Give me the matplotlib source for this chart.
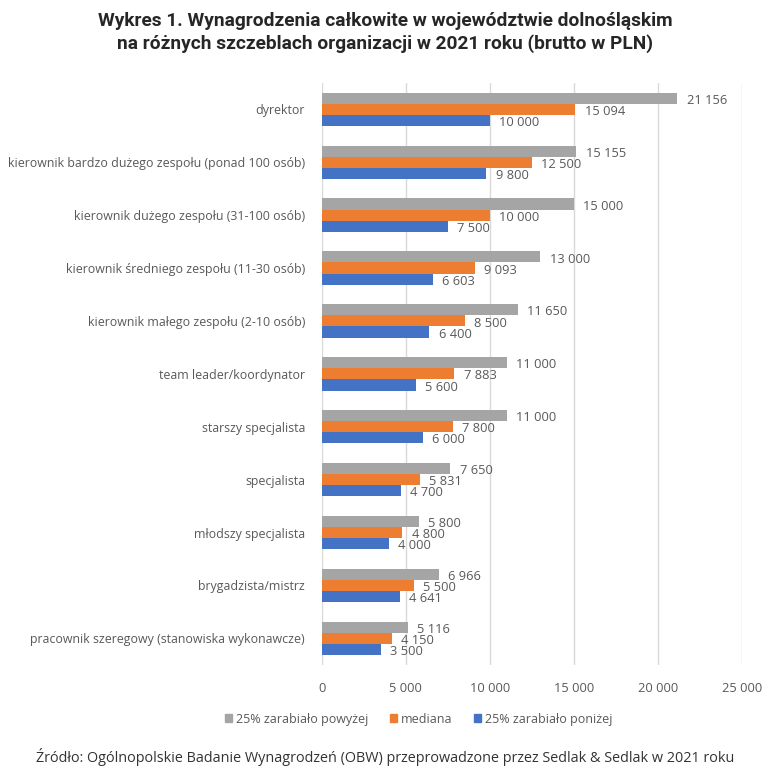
import numpy as np
import matplotlib
matplotlib.use("Agg")
import matplotlib.pyplot as plt
from matplotlib.patches import Patch

categories = [
    "dyrektor",
    "kierownik bardzo dużego zespołu (ponad 100 osób)",
    "kierownik dużego zespołu (31-100 osób)",
    "kierownik średniego zespołu (11-30 osób)",
    "kierownik małego zespołu (2-10 osób)",
    "team leader/koordynator",
    "starszy specjalista",
    "specjalista",
    "młodszy specjalista",
    "brygadzista/mistrz",
    "pracownik szeregowy (stanowiska wykonawcze)",
]
upper = [21156, 15155, 15000, 13000, 11650, 11000, 11000, 7650, 5800, 6966, 5116]
median = [15094, 12500, 10000, 9093, 8500, 7883, 7800, 5831, 4800, 5500, 4150]
lower = [10000, 9800, 7500, 6603, 6400, 5600, 6000, 4700, 4000, 4641, 3500]
series_names = ["25% zarabiało powyżej", "mediana", "25% zarabiało poniżej"]
colors = ["#A5A5A5", "#ED7D31", "#4472C4"]
xticks = [0, 5000, 10000, 15000, 20000, 25000]

TXT = "#595959"
plt.rcParams["font.family"] = ["Open Sans", "DejaVu Sans"]

fig = plt.figure(figsize=(7.81, 7.74), dpi=100)
ax = fig.add_axes([0.412, 0.141, 0.538, 0.752])

y = np.arange(len(categories))
h = 0.21
offs = [-h, 0, h]
for vals, c, off in zip([upper, median, lower], colors, offs):
    ax.barh(y + off, vals, height=h, color=c, zorder=3)
    for yi, v in zip(y, vals):
        ax.text(v + 550, yi + off + 0.04, f"{v:,}".replace(",", " "),
                va="center", ha="left", fontsize=9.3, color=TXT, zorder=4)

ax.set_ylim(len(categories) - 0.5, -0.5)
ax.set_xlim(0, 25000)
ax.set_xticks(xticks)
ax.set_xticklabels([f"{t:,}".replace(",", " ") for t in xticks], fontsize=9.3, color=TXT)
ax.set_yticks(y)
ax.set_yticklabels(categories, fontsize=8.95, color=TXT)
ax.tick_params(length=0, pad=12)
ax.xaxis.grid(True, color="#D9D9D9", lw=1, zorder=0)
for s in ax.spines.values():
    s.set_visible(False)

handles = [Patch(color=c) for c in colors]
fig.legend(handles, series_names, loc="center", bbox_to_anchor=(0.536, 0.071),
           ncol=3, frameon=False, fontsize=9, labelcolor=TXT,
           handlelength=0.6, handleheight=0.6, handletextpad=0.3, columnspacing=1.7)

fig.text(0.493, 0.958, "Wykres 1. Wynagrodzenia całkowite w województwie dolnośląskim\n"
         "na różnych szczeblach organizacji w 2021 roku (brutto w PLN)",
         ha="center", va="center", fontsize=13.8, fontweight="bold", color="#262626",
         family=["Roboto", "DejaVu Sans"], linespacing=1.3)

fig.text(0.493, 0.022, "Źródło: Ogólnopolskie Badanie Wynagrodzeń (OBW) przeprowadzone przez Sedlak & Sedlak w 2021 roku",
         ha="center", va="center", fontsize=10.35, color="#333333")

fig.savefig("out.png", dpi=100)
